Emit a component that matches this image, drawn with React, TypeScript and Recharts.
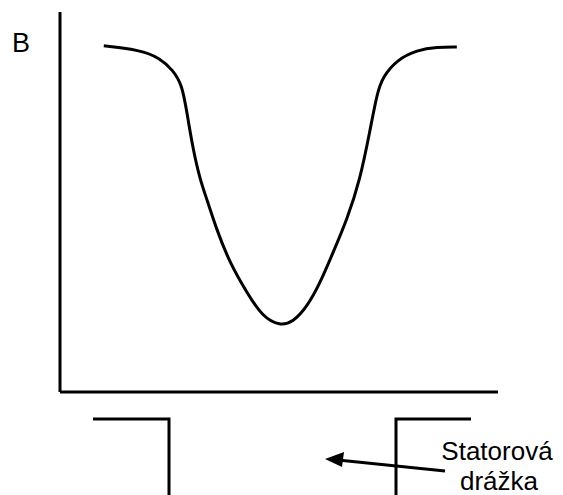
import { LineChart, Line, XAxis, YAxis } from "recharts";

// position along the air gap (0..100) and flux density B (0..100)
const position = [
  10.0, 18.3, 22.8, 25.8, 27.9, 29.0, 30.4, 32.0, 33.6, 35.8, 38.8, 42.7, 46.3,
  50.2, 53.2, 56.4, 59.4, 62.3, 65.5, 68.5, 70.8, 72.4, 73.7, 76.9, 81.5, 86.1,
  90.6,
];
const fluxB = [
  91.1, 90.0, 87.9, 84.7, 80.8, 73.4, 63.7, 55.8, 50.5, 42.6, 33.9, 26.1, 19.7,
  17.4, 18.4, 22.4, 28.7, 36.6, 45.3, 55.8, 68.9, 78.7, 82.9, 87.4, 90.0, 90.8,
  90.8,
];
const axisLabel = "B";
const slotLabel = ["Statorová", "drážka"];

const data = position.map((x, i) => ({ x, b: fluxB[i] }));

const W = 563;
const H = 495;
const font = "Arial, 'Liberation Sans', sans-serif";

export default function App() {
  return (
    <div style={{ position: "absolute", left: 0, top: 0, width: W, height: H, background: "#fff" }}>
      <LineChart
        width={W}
        height={H}
        data={data}
        margin={{ top: 12, right: 65, left: 59, bottom: 102 }}
      >
        <XAxis
          dataKey="x"
          type="number"
          domain={[0, 100]}
          tick={false}
          tickLine={false}
          height={1}
          axisLine={{ stroke: "#000", strokeWidth: 3 }}
        />
        <YAxis
          type="number"
          domain={[0, 100]}
          tick={false}
          tickLine={false}
          width={1}
          axisLine={{ stroke: "#000", strokeWidth: 3 }}
        />
        <Line
          type="basis"
          dataKey="b"
          stroke="#000"
          strokeWidth={3}
          dot={false}
          isAnimationActive={false}
        />
      </LineChart>

      {/* annotations: axis label, stator slot, arrow */}
      <svg
        width={W}
        height={H}
        style={{ position: "absolute", left: 0, top: 0, pointerEvents: "none" }}
      >
        <text x={12} y={52} fontFamily={font} fontSize={27} fill="#000">
          {axisLabel}
        </text>
        <polyline points="93,419 169,419 169,495" fill="none" stroke="#000" strokeWidth={3} />
        <polyline points="471,419 396,419 396,495" fill="none" stroke="#000" strokeWidth={3} />
        <line x1={445} y1={471} x2={338} y2={460} stroke="#000" strokeWidth={3} />
        <polygon points="325,459 344,452 342,467" fill="#000" />
        <text x={497} y={460} fontFamily={font} fontSize={26} textAnchor="middle" fill="#000">
          {slotLabel[0]}
        </text>
        <text x={499} y={490} fontFamily={font} fontSize={26} textAnchor="middle" fill="#000">
          {slotLabel[1]}
        </text>
      </svg>
    </div>
  );
}
